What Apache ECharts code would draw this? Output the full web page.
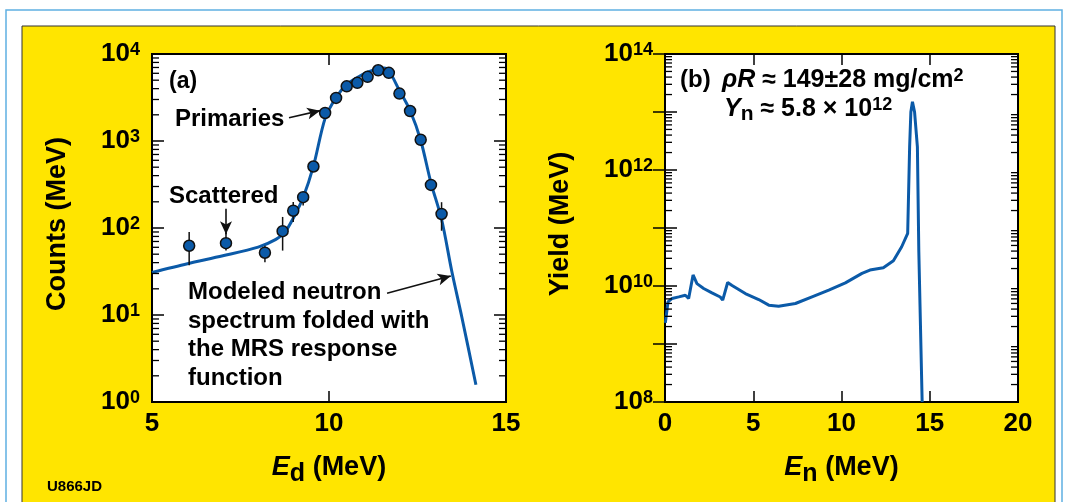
<!DOCTYPE html>
<html>
<head>
<meta charset="utf-8">
<script src="https://cdn.jsdelivr.net/npm/echarts@6/dist/echarts.min.js"></script>
<style>
html,body{margin:0;padding:0;background:#fff;}
#c{width:1068px;height:502px;}
</style>
</head>
<body>
<div id="c"></div>
<script>
// ---------- Data (a): MRS spectrum ----------
const ptsE   = [6.05, 7.09, 8.19, 8.69, 8.99, 9.27, 9.56, 9.89, 10.20, 10.50, 10.80, 11.09, 11.39, 11.69, 11.99, 12.29, 12.59, 12.88, 13.18];
const ptsC   = [62.5, 67, 52, 92, 158, 226, 509, 2100, 3130, 4250, 4660, 5460, 6500, 6070, 3510, 2210, 1033, 313, 145];
const errLo  = [37.4, 55, 40.5, 55, 117, 181, null, null, null, null, null, null, null, null, null, null, null, 269, 93];
const errHi  = [90, 89, 62.5, 134, 199, 257, null, null, null, null, null, null, null, null, null, null, null, 351, 198];

const curveE = [5.0, 6.0, 7.0, 8.0, 8.5, 8.75, 9.0, 9.27, 9.56, 9.89, 10.2, 10.5, 10.8, 11.09, 11.39, 11.55, 11.69, 11.99, 12.29, 12.59, 12.88, 13.18, 13.47, 13.75, 14.15];
const curveC = [30.9, 38.9, 47.9, 60.3, 74.1, 89.1, 132, 224, 513, 1820, 3160, 4470, 5370, 6170, 6760, 6920, 6460, 3800, 2240, 1020, 331, 126, 31.6, 9.55, 1.58];

// ---------- Data (b): neutron spectrum ----------
const enX   = [0.02, 0.17, 0.40, 0.78, 1.15, 1.34, 1.59, 1.81, 2.19, 2.66, 3.13, 3.27, 3.55, 3.80, 4.55, 5.31, 5.88, 6.44, 7.39, 8.33, 9.28, 10.22, 11.16, 11.61, 12.37, 12.94, 13.41, 13.75, 13.86, 13.93, 14.02, 14.14, 14.30, 14.38, 14.45, 14.57];
const yieldY = [2.31e9, 5.32e9, 6.10e9, 6.49e9, 6.92e9, 6.10e9, 1.55e10, 1.10e10, 9.06e9, 7.59e9, 6.46e9, 5.69e9, 1.15e10, 1.02e10, 7.41e9, 5.85e9, 4.67e9, 4.48e9, 4.99e9, 6.49e9, 8.47e9, 1.13e10, 1.65e10, 1.88e10, 2.06e10, 2.72e10, 4.75e10, 8.11e10, 2.5e12, 1.0e13, 1.5e13, 1.0e13, 2.5e12, 4.0e10, 4.4e9, 1.0e8];

// ---------- Axis ticks ----------
const xTicksA = [5, 15, 5];      // min, max, interval
const xTicksB = [0, 20, 5];
const yRangeA = [1, 1e4];
const yRangeB = [1e8, 1e14];
const minorMultiples = [2, 3, 4, 5, 6, 7, 8, 9];
const decadesA = [1, 10, 100, 1000];
const decadesB = [1e8, 1e9, 1e10, 1e11, 1e12, 1e13];

const FF = '"Liberation Sans", Arial, Helvetica, sans-serif';
const BLUE = '#0b5aa8';
const YEL = '#FFE500';

function minorList(decades) {
  const out = [];
  decades.forEach(d => minorMultiples.forEach(m => out.push(d * m)));
  return out;
}

const chart = echarts.init(document.getElementById('c'), null, {renderer: 'canvas'});

function xAxisCfg(grid, rng, top) {
  return {
    gridIndex: grid, type: 'value', min: rng[0], max: rng[1], interval: rng[2],
    position: top ? 'top' : 'bottom',
    axisLine: {show: false},
    axisTick: {show: true, inside: true, length: 11, lineStyle: {color: '#000', width: 1.5}},
    axisLabel: top ? {show: false} : {show: true, margin: 9, color: '#000', fontSize: 26, fontWeight: 'bold', fontFamily: FF},
    splitLine: {show: false}
  };
}
const powRich = {
  b: {fontSize: 26, fontWeight: 'bold', fontFamily: FF, color: '#000', lineHeight: 26},
  s: {fontSize: 18, fontWeight: 'bold', fontFamily: FF, color: '#000', lineHeight: 18, verticalAlign: 'top'}
};
function yAxisCfg(grid, rng, right, evenOnly) {
  return {
    gridIndex: grid, type: 'log', logBase: 10, min: rng[0], max: rng[1],
    position: right ? 'right' : 'left',
    axisLine: {show: false},
    axisTick: {show: true, inside: true, length: 12, lineStyle: {color: '#000', width: 1.5}},
    axisLabel: right ? {show: false} : {
      show: true, margin: 12,
      formatter: function (v) {
        const e = Math.round(Math.log10(v));
        if (evenOnly && e % 2 !== 0) return '';
        return '{b|10}{s|' + e + '}';
      },
      rich: powRich
    },
    splitLine: {show: false}
  };
}

function minorTickSeries(xi, yi, xr, vals) {
  return {
    type: 'custom', xAxisIndex: xi, yAxisIndex: yi, silent: true, clip: false, z: 5,
    data: vals.map(v => [xr[0], v]),
    encode: {x: 0, y: 1},
    renderItem: function (params, api) {
      const v = api.value(1);
      const L = api.coord([xr[0], v]);
      const R = api.coord([xr[1], v]);
      const st = {stroke: '#000', lineWidth: 1.3};
      return {type: 'group', children: [
        {type: 'line', shape: {x1: L[0], y1: L[1], x2: L[0] + 7, y2: L[1]}, style: st},
        {type: 'line', shape: {x1: R[0] - 7, y1: R[1], x2: R[0], y2: R[1]}, style: st}
      ]};
    }
  };
}

const txt = (o) => Object.assign({type: 'text', z: 100, silent: true}, o);
const bold = (size, extra) => Object.assign({fontSize: size, fontWeight: 'bold', fontFamily: FF, fill: '#000'}, extra || {});
const subTitleRich = {
  i: bold(27, {fontStyle: 'italic', lineHeight: 37}),
  sub: bold(25, {verticalAlign: 'bottom'}),
  n: bold(27, {lineHeight: 37})
};

const option = {
  animation: false,
  graphic: [
    {type: 'rect', z: -20, silent: true, shape: {x: 6, y: 10, width: 1056, height: 520}, style: {fill: 'none', stroke: '#5fb0e2', lineWidth: 1.5}},
    {type: 'rect', z: -10, silent: true, shape: {x: 22, y: 26, width: 1033, height: 500}, style: {fill: YEL, stroke: '#333', lineWidth: 1}},
    txt({x: 169, y: 82, style: Object.assign(bold(23), {text: '(a)', align: 'left', verticalAlign: 'middle'})}),
    txt({x: 175, y: 119.5, style: Object.assign(bold(24), {text: 'Primaries', align: 'left', verticalAlign: 'middle'})}),
    txt({x: 169, y: 196, style: Object.assign(bold(24), {text: 'Scattered', align: 'left', verticalAlign: 'middle'})}),
    txt({x: 188, y: 278.5, style: Object.assign(bold(24), {text: 'Modeled neutron\nspectrum folded with\nthe MRS response\nfunction', align: 'left', verticalAlign: 'top', lineHeight: 28.5})}),
    txt({x: 47, y: 487, style: Object.assign(bold(15), {text: 'U866JD', align: 'left', verticalAlign: 'middle'})}),
    txt({x: 58, y: 224, rotation: Math.PI / 2, style: Object.assign(bold(27), {text: 'Counts (MeV)', align: 'center', verticalAlign: 'middle'})}),
    txt({x: 561, y: 224, rotation: Math.PI / 2, style: Object.assign(bold(27), {text: 'Yield (MeV)', align: 'center', verticalAlign: 'middle'})}),
    txt({x: 329, y: 468, style: {text: '{i|E}{sub|d}{n| (MeV)}', align: 'center', verticalAlign: 'middle', rich: subTitleRich}}),
    txt({x: 841.5, y: 468, style: {text: '{i|E}{sub|n}{n| (MeV)}', align: 'center', verticalAlign: 'middle', rich: subTitleRich}}),
    txt({x: 680, y: 80, style: Object.assign(bold(24), {text: '(b)', align: 'left', verticalAlign: 'middle'})}),
    txt({x: 722, y: 80, style: {text: '{i|ρR}{n| ≈ 149±28 mg/cm}{s|2}', align: 'left', verticalAlign: 'middle',
      rich: {i: bold(25, {fontStyle: 'italic', lineHeight: 26}), n: bold(25, {lineHeight: 26}), s: bold(18, {lineHeight: 18, verticalAlign: 'top'})}}}),
    txt({x: 724, y: 109, style: {text: '{i|Y}{sub|n}{n| ≈ 5.8 × 10}{s|12}', align: 'left', verticalAlign: 'middle',
      rich: {i: bold(25, {fontStyle: 'italic', lineHeight: 31}), sub: bold(21, {verticalAlign: 'bottom'}), n: bold(25, {lineHeight: 31}), s: bold(18, {verticalAlign: 'top', padding: [3, 0, 0, 0]})}}})
  ],
  grid: [
    {left: 152, top: 54, width: 354, height: 348, show: true, backgroundColor: '#fff', borderColor: '#000', borderWidth: 2, containLabel: false},
    {left: 665, top: 54, width: 353, height: 348, show: true, backgroundColor: '#fff', borderColor: '#000', borderWidth: 2, containLabel: false}
  ],
  xAxis: [
    xAxisCfg(0, xTicksA, false), xAxisCfg(0, xTicksA, true),
    xAxisCfg(1, xTicksB, false), xAxisCfg(1, xTicksB, true)
  ],
  yAxis: [
    yAxisCfg(0, yRangeA, false, false), yAxisCfg(0, yRangeA, true, false),
    yAxisCfg(1, yRangeB, false, true), yAxisCfg(1, yRangeB, true, true)
  ],
  series: [
    {
      type: 'line', xAxisIndex: 0, yAxisIndex: 0, smooth: 0.3, showSymbol: false, z: 2,
      data: curveE.map((e, i) => [e, curveC[i]]),
      lineStyle: {color: BLUE, width: 3}
    },
    {
      type: 'custom', xAxisIndex: 0, yAxisIndex: 0, z: 3, silent: true,
      data: ptsE.map((e, i) => [e, errLo[i], errHi[i]]).filter(d => d[1] != null),
      encode: {x: 0, y: [1, 2]},
      renderItem: function (params, api) {
        const x = api.value(0);
        const a = api.coord([x, api.value(1)]);
        const b = api.coord([x, api.value(2)]);
        return {type: 'line', shape: {x1: a[0], y1: a[1], x2: b[0], y2: b[1]}, style: {stroke: '#111', lineWidth: 1.5}};
      }
    },
    {
      type: 'scatter', xAxisIndex: 0, yAxisIndex: 0, z: 4, symbol: 'circle', symbolSize: 11,
      data: ptsE.map((e, i) => [e, ptsC[i]]),
      itemStyle: {color: BLUE, borderColor: '#111', borderWidth: 1.5, opacity: 1},
      markLine: {
        silent: true, animation: false, symbol: ['none', 'arrow'], symbolSize: [9, 13],
        label: {show: false},
        lineStyle: {color: '#111', width: 1.6, type: 'solid'},
        data: [
          [{coord: [8.87, 1854]}, {coord: [9.75, 2233]}],
          [{coord: [7.09, 166]}, {coord: [7.09, 85]}],
          [{coord: [11.64, 17.8]}, {coord: [13.44, 28]}]
        ]
      }
    },
    minorTickSeries(0, 0, xTicksA, minorList(decadesA)),
    {
      type: 'line', xAxisIndex: 2, yAxisIndex: 2, smooth: false, showSymbol: false, z: 2,
      data: enX.map((e, i) => [e, yieldY[i]]),
      lineStyle: {color: BLUE, width: 3}
    },
    minorTickSeries(2, 2, xTicksB, minorList(decadesB))
  ]
};
chart.setOption(option);
</script>
</body>
</html>
